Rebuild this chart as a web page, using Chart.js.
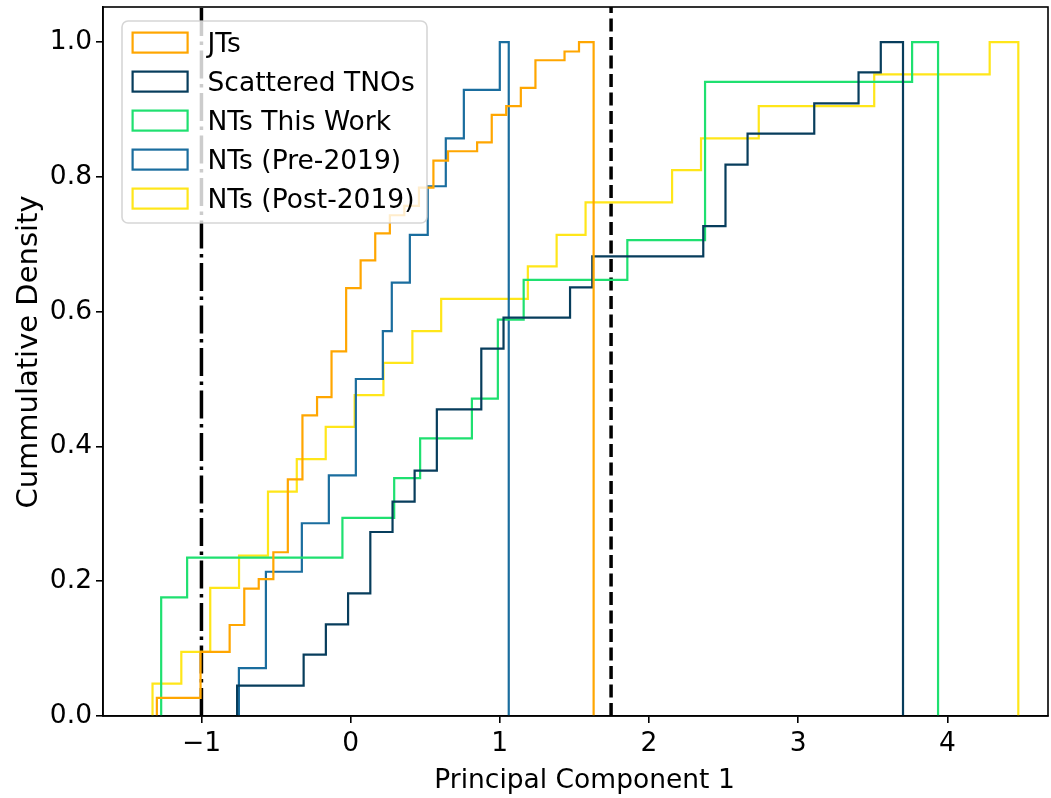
<!DOCTYPE html>
<html>
<head>
<meta charset="utf-8">
<script src="https://cdn.jsdelivr.net/npm/chart.js@4.4.1/dist/chart.umd.min.js"></script>
<style>
  html, body { margin: 0; padding: 0; background: #fff; }
  canvas { display: block; }
</style>
</head>
<body>
<canvas id="cdfChart" width="1051" height="798"></canvas>
<script>
// Series names (legend order)
const seriesLabels = ['JTs', 'Scattered TNOs', 'NTs This Work', 'NTs (Pre-2019)', 'NTs (Post-2019)'];
const seriesColors = ['#ffa600', '#073d5c', '#1fe070', '#1a6d9e', '#ffe619'];

// Bin edges where the cumulative value changes (last value = right edge of the histogram)
// and the cumulative density reached at each of those edges
const jtsX = [-1.299, -1.006, -0.811, -0.713, -0.616, -0.518, -0.421, -0.323, -0.225, -0.128, -0.030,
              0.067, 0.165, 0.263, 0.360, 0.458, 0.555, 0.653, 0.848, 0.946, 1.043, 1.141, 1.239,
              1.434, 1.531, 1.629];
const jtsY = [0.027, 0.095, 0.135, 0.189, 0.203, 0.243, 0.351, 0.446, 0.473, 0.541, 0.635,
              0.676, 0.716, 0.743, 0.757, 0.784, 0.824, 0.838, 0.851, 0.892, 0.905, 0.932, 0.973,
              0.986, 1.0];

const scatteredX = [-0.761, -0.315, -0.166, -0.017, 0.132, 0.281, 0.429, 0.578, 0.876, 1.025,
                    1.471, 1.620, 2.364, 2.513, 2.661, 3.108, 3.405, 3.554, 3.703];
const scatteredY = [0.045, 0.091, 0.136, 0.182, 0.273, 0.318, 0.364, 0.455, 0.545, 0.591,
                    0.636, 0.682, 0.727, 0.818, 0.864, 0.909, 0.955, 1.0];

const thisWorkX = [-1.270, -1.096, -0.055, 0.292, 0.466, 0.813, 0.987, 1.160, 1.855, 2.376, 3.764, 3.938];
const thisWorkY = [0.176, 0.235, 0.294, 0.353, 0.412, 0.471, 0.588, 0.647, 0.706, 0.941, 1.0];

const preX = [-0.749, -0.568, -0.327, -0.146, 0.035, 0.216, 0.276, 0.397, 0.517, 0.638, 0.759, 1.000, 1.060];
const preY = [0.071, 0.214, 0.286, 0.357, 0.500, 0.571, 0.643, 0.714, 0.786, 0.857, 0.929, 1.0];

const postX = [-1.328, -1.135, -0.941, -0.748, -0.554, -0.361, -0.167, 0.027, 0.220, 0.414, 0.607,
               1.188, 1.381, 1.575, 2.155, 2.349, 2.736, 3.510, 4.284, 4.476];
const postY = [0.048, 0.095, 0.190, 0.238, 0.333, 0.381, 0.429, 0.476, 0.524, 0.571, 0.619,
               0.667, 0.714, 0.762, 0.810, 0.857, 0.905, 0.952, 1.0];

// reference lines
const dashDotX = -1.0;
const dashedX = 1.746;

// axes
const xTicks = [-1, 0, 1, 2, 3, 4];
const yTicks = [0, 0.2, 0.4, 0.6, 0.8, 1.0];
const xRange = [-1.66, 4.675];
const yRange = [0, 1.052];
const xTitle = 'Principal Component 1';
const yTitle = 'Cummulative Density';

const FONT = 'DejaVu Sans';

// turn edges + cumulative values into a step outline (like histtype='step')
function stepOutline(xs, ys) {
    const pts = [{ x: xs[0], y: 0 }];
    ys.forEach((y, i) => {
        pts.push({ x: xs[i], y: y });
        pts.push({ x: xs[i + 1], y: y });
    });
    pts.push({ x: xs[xs.length - 1], y: 0 });
    return pts;
}

const allX = [jtsX, scatteredX, thisWorkX, preX, postX];
const allY = [jtsY, scatteredY, thisWorkY, preY, postY];

const stepSets = seriesLabels.map((label, i) => ({
    label: label,
    data: stepOutline(allX[i], allY[i]),
    borderColor: seriesColors[i],
    backgroundColor: seriesColors[i],
    borderWidth: 2.2,
    borderJoinStyle: 'miter',
    pointRadius: 0,
    tension: 0,
    fill: false
}));

const refSets = [
    {
        label: 'dashdot',
        data: [{ x: dashDotX, y: yRange[0] }, { x: dashDotX, y: yRange[1] }],
        borderColor: '#000',
        borderWidth: 3.5,
        borderDash: [28, 5.5, 3.5, 5.5],
        pointRadius: 0,
        fill: false
    },
    {
        label: 'dashed',
        data: [{ x: dashedX, y: yRange[0] }, { x: dashedX, y: yRange[1] }],
        borderColor: '#000',
        borderWidth: 3.5,
        borderDash: [13, 5.5],
        pointRadius: 0,
        fill: false
    }
];

// full box around the plot (matplotlib spines)
const frameBox = {
    id: 'frameBox',
    afterDatasetsDraw(chart) {
        const a = chart.chartArea;
        const ctx = chart.ctx;
        ctx.save();
        ctx.strokeStyle = '#000';
        ctx.lineWidth = 1.6;
        ctx.strokeRect(a.left, a.top, a.right - a.left, a.bottom - a.top);
        ctx.restore();
    }
};

// axis titles, placed like the matplotlib labels
const axisTitles = {
    id: 'axisTitles',
    afterDraw(chart) {
        const a = chart.chartArea;
        const ctx = chart.ctx;
        ctx.save();
        ctx.fillStyle = '#000';
        ctx.textAlign = 'center';
        ctx.textBaseline = 'alphabetic';
        ctx.font = '26.5px "' + FONT + '"';
        ctx.fillText(xTitle, (a.left + a.right) / 2 + 9, a.bottom + 72);
        ctx.translate(a.left - 66, (a.top + a.bottom) / 2 - 9.5);
        ctx.rotate(-Math.PI / 2);
        ctx.font = '29px "' + FONT + '"';
        ctx.fillText(yTitle, 0, 0);
        ctx.restore();
    }
};

// legend drawn inside the axes, top-left, with a rounded translucent frame
const insetLegend = {
    id: 'insetLegend',
    afterDraw(chart) {
        const a = chart.chartArea;
        const ctx = chart.ctx;
        const left = a.left + 19, top = a.top + 14, w = 305, h = 202, r = 6;
        ctx.save();
        ctx.beginPath();
        ctx.roundRect(left, top, w, h, r);
        ctx.fillStyle = 'rgba(255,255,255,0.8)';
        ctx.fill();
        ctx.strokeStyle = 'rgba(204,204,204,0.8)';
        ctx.lineWidth = 1.6;
        ctx.stroke();

        ctx.font = '26.5px "' + FONT + '"';
        ctx.textBaseline = 'alphabetic';
        ctx.textAlign = 'left';
        seriesLabels.forEach((label, i) => {
            const cy = top + 21.6 + i * 39;
            ctx.strokeStyle = seriesColors[i];
            ctx.lineWidth = 2.2;
            ctx.strokeRect(left + 10.6, cy - 10, 55, 20);
            ctx.fillStyle = '#000';
            ctx.fillText(label, left + 85.5, cy + 9.5);
        });
        ctx.restore();
    }
};

const ctx = document.getElementById('cdfChart').getContext('2d');
new Chart(ctx, {
    type: 'line',
    data: { datasets: stepSets.concat(refSets) },
    options: {
        responsive: false,
        animation: false,
        devicePixelRatio: 1,
        layout: { padding: { top: 7, right: 3, left: 0, bottom: 0 } },
        plugins: {
            legend: { display: false },
            tooltip: { enabled: false }
        },
        scales: {
            x: {
                type: 'linear',
                min: xRange[0],
                max: xRange[1],
                afterBuildTicks: s => { s.ticks = xTicks.map(v => ({ value: v })); },
                afterFit: s => { s.height = 82; s.paddingLeft = 0; s.paddingRight = 0; },
                ticks: {
                    color: '#000',
                    font: { family: FONT, size: 26.5 },
                    padding: 5,
                    maxRotation: 0,
                    callback: v => (v < 0 ? '\u2212' : '') + Math.abs(v)
                },
                grid: { display: true, drawOnChartArea: false, drawTicks: true, tickLength: 7, color: '#000', lineWidth: 1.6 },
                border: { display: true, color: '#000', width: 1.6 }
            },
            y: {
                type: 'linear',
                min: yRange[0],
                max: yRange[1],
                afterBuildTicks: s => { s.ticks = yTicks.map(v => ({ value: v })); },
                afterFit: s => { s.width = 103; s.paddingTop = 0; s.paddingBottom = 0; },
                ticks: {
                    color: '#000',
                    font: { family: FONT, size: 26.5 },
                    padding: 4,
                    callback: v => v.toFixed(1)
                },
                grid: { display: true, drawOnChartArea: false, drawTicks: true, tickLength: 7, color: '#000', lineWidth: 1.6 },
                border: { display: true, color: '#000', width: 1.6 }
            }
        }
    },
    plugins: [frameBox, axisTitles, insetLegend]
});
</script>
</body>
</html>
